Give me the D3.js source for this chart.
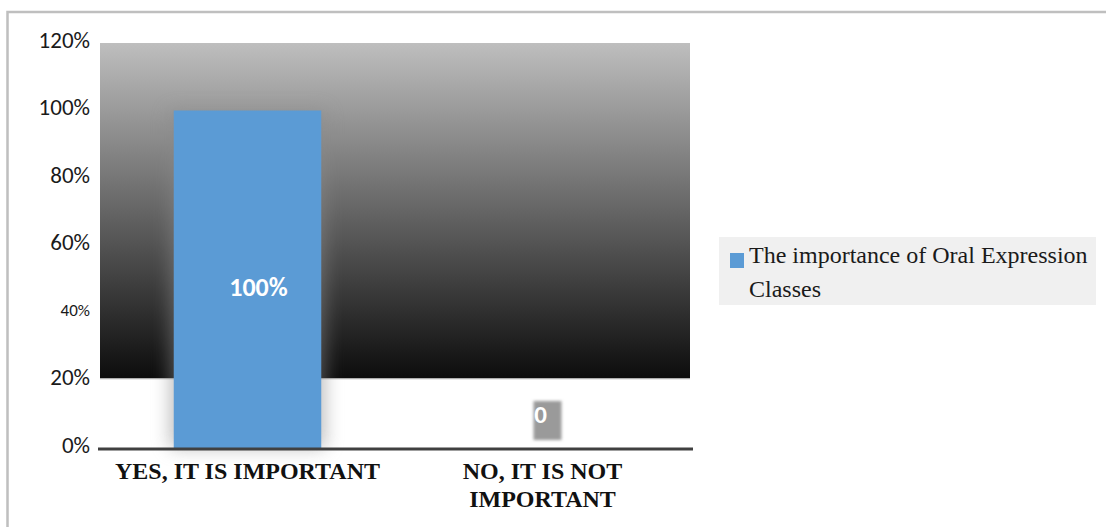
<!DOCTYPE html>
<html>
<head>
<meta charset="utf-8">
<script src="https://cdn.jsdelivr.net/npm/d3@7"></script>
<style>
  html, body { margin: 0; padding: 0; background: #fff; }
  svg { display: block; }
</style>
</head>
<body>
<svg id="chart" width="1106" height="527"></svg>
<script>
// Survey answers and their share of respondents (%)
const categories = ["YES, IT IS IMPORTANT", "NO, IT IS NOT IMPORTANT"];
const categoryLines = [["YES, IT IS IMPORTANT"], ["NO, IT IS NOT", "IMPORTANT"]];
const seriesName = "The importance of Oral Expression Classes";
const values = [100, 0];
const valueLabels = ["100%", "0"];
const tickValues = [0, 20, 40, 60, 80, 100, 120];
const tickLabels = ["0%", "20%", "40%", "60%", "80%", "100%", "120%"];

const svg = d3.select("#chart");
const defs = svg.append("defs");

const plot = { left: 100, right: 690, top: 43, bottom: 448 };

const x = d3.scaleBand()
  .domain(categories)
  .range([plot.left, plot.right])
  .paddingInner(0.5)
  .paddingOuter(0.25);

const y = d3.scaleLinear()
  .domain([0, 120])
  .range([plot.bottom, plot.top]);

// Outer frame
svg.append("path")
  .attr("d", "M7.5,540 L7.5,12 L1120,12")
  .attr("fill", "none")
  .attr("stroke", "#bfbfbf")
  .attr("stroke-width", 2.5);

// Plot background: grey-to-black band
const grad = defs.append("linearGradient")
  .attr("id", "bgGrad").attr("x1", 0).attr("y1", 0).attr("x2", 0).attr("y2", 1);
grad.append("stop").attr("offset", "0%").attr("stop-color", "#bebebe");
grad.append("stop").attr("offset", "100%").attr("stop-color", "#0c0c0c");

svg.append("rect")
  .attr("x", plot.left)
  .attr("y", y(120))
  .attr("width", plot.right - plot.left)
  .attr("height", y(20) - y(120) - 2)
  .attr("fill", "url(#bgGrad)");

svg.append("line")
  .attr("x1", plot.left).attr("x2", plot.right)
  .attr("y1", y(20) - 1.5).attr("y2", y(20) - 1.5)
  .attr("stroke", "#d4d4d4").attr("stroke-width", 1);

// Soft shadow behind bars
const blur = defs.append("filter").attr("id", "soft")
  .attr("x", "-50%").attr("y", "-50%").attr("width", "200%").attr("height", "200%");
blur.append("feGaussianBlur").attr("stdDeviation", 9);

const barsData = categories.map((c, i) => ({ c, v: values[i], label: valueLabels[i] }));

svg.append("g")
  .selectAll("rect")
  .data(barsData.filter(d => d.v > 0))
  .join("rect")
  .attr("x", d => x(d.c) - 4)
  .attr("y", d => y(d.v))
  .attr("width", x.bandwidth() + 8)
  .attr("height", d => y(0) - y(d.v))
  .attr("fill", "#8a8a8a")
  .attr("opacity", 0.55)
  .attr("filter", "url(#soft)");

// Bars
svg.append("g")
  .selectAll("rect")
  .data(barsData)
  .join("rect")
  .attr("x", d => x(d.c))
  .attr("y", d => y(d.v))
  .attr("width", x.bandwidth())
  .attr("height", d => y(0) - y(d.v))
  .attr("fill", "#5b9bd5");

// Category axis line
svg.append("line")
  .attr("x1", plot.left - 2).attr("x2", plot.right + 3)
  .attr("y1", y(0) + 1).attr("y2", y(0) + 1)
  .attr("stroke", "#404040").attr("stroke-width", 3);

// Value axis labels (no line, no ticks)
const yAxis = d3.axisLeft(y)
  .tickValues(tickValues)
  .tickFormat((d, i) => tickLabels[i])
  .tickSize(0)
  .tickPadding(0);

const yg = svg.append("g")
  .attr("transform", `translate(90,-3)`)
  .call(yAxis);
yg.select(".domain").remove();
yg.selectAll("text")
  .attr("font-family", "Carlito, 'Liberation Sans', Arial, sans-serif")
  .attr("font-size", d => d === 40 ? 17 : 23)
  .attr("fill", "#1a1a1a");

// Category labels
const xl = svg.append("g");
categories.forEach((c, i) => {
  const t = xl.append("text")
    .attr("x", x(c) + x.bandwidth() / 2)
    .attr("y", 479)
    .attr("text-anchor", "middle")
    .attr("font-family", "'Liberation Serif', 'Times New Roman', serif")
    .attr("font-weight", "bold")
    .attr("font-size", 24)
    .attr("fill", "#111");
  categoryLines[i].forEach((line, j) => {
    t.append("tspan")
      .attr("x", x(c) + x.bandwidth() / 2)
      .attr("dy", j === 0 ? 0 : 28)
      .text(line);
  });
});

// Data labels
const dl = svg.append("g");
const small = defs.append("filter").attr("id", "fuzz")
  .attr("x", "-30%").attr("y", "-30%").attr("width", "160%").attr("height", "160%");
small.append("feGaussianBlur").attr("stdDeviation", 1.6);

barsData.forEach(d => {
  const cx = x(d.c) + x.bandwidth() / 2;
  if (d.v > 0) {
    dl.append("text")
      .attr("x", cx + 11)
      .attr("y", (y(d.v) + y(0)) / 2 + 17)
      .attr("text-anchor", "middle")
      .attr("font-family", "Carlito, 'Liberation Sans', Arial, sans-serif")
      .attr("font-weight", "bold")
      .attr("font-size", 26)
      .attr("fill", "#ffffff")
      .text(d.label);
  } else {
    dl.append("rect")
      .attr("x", cx - 9).attr("y", y(0) - 47)
      .attr("width", 28).attr("height", 39)
      .attr("fill", "#9a9a9a")
      .attr("filter", "url(#fuzz)");
    dl.append("text")
      .attr("x", cx - 2)
      .attr("y", y(0) - 25)
      .attr("text-anchor", "middle")
      .attr("font-family", "Carlito, 'Liberation Sans', Arial, sans-serif")
      .attr("font-weight", "bold")
      .attr("font-size", 25)
      .attr("fill", "#ffffff")
      .text(d.label);
  }
});

// Legend
const lg = svg.append("g");
lg.append("rect")
  .attr("x", 719).attr("y", 237)
  .attr("width", 377).attr("height", 68)
  .attr("fill", "#f0f0f0");
lg.append("rect")
  .attr("x", 730).attr("y", 253)
  .attr("width", 14).attr("height", 15)
  .attr("fill", "#5b9bd5");
const lt = lg.append("text")
  .attr("font-family", "'Liberation Serif', 'Times New Roman', serif")
  .attr("font-size", 24)
  .attr("fill", "#1a1a1a");
lt.append("tspan").attr("x", 749).attr("y", 263).text("The importance of Oral Expression");
lt.append("tspan").attr("x", 749).attr("y", 297).text("Classes");
</script>
</body>
</html>
